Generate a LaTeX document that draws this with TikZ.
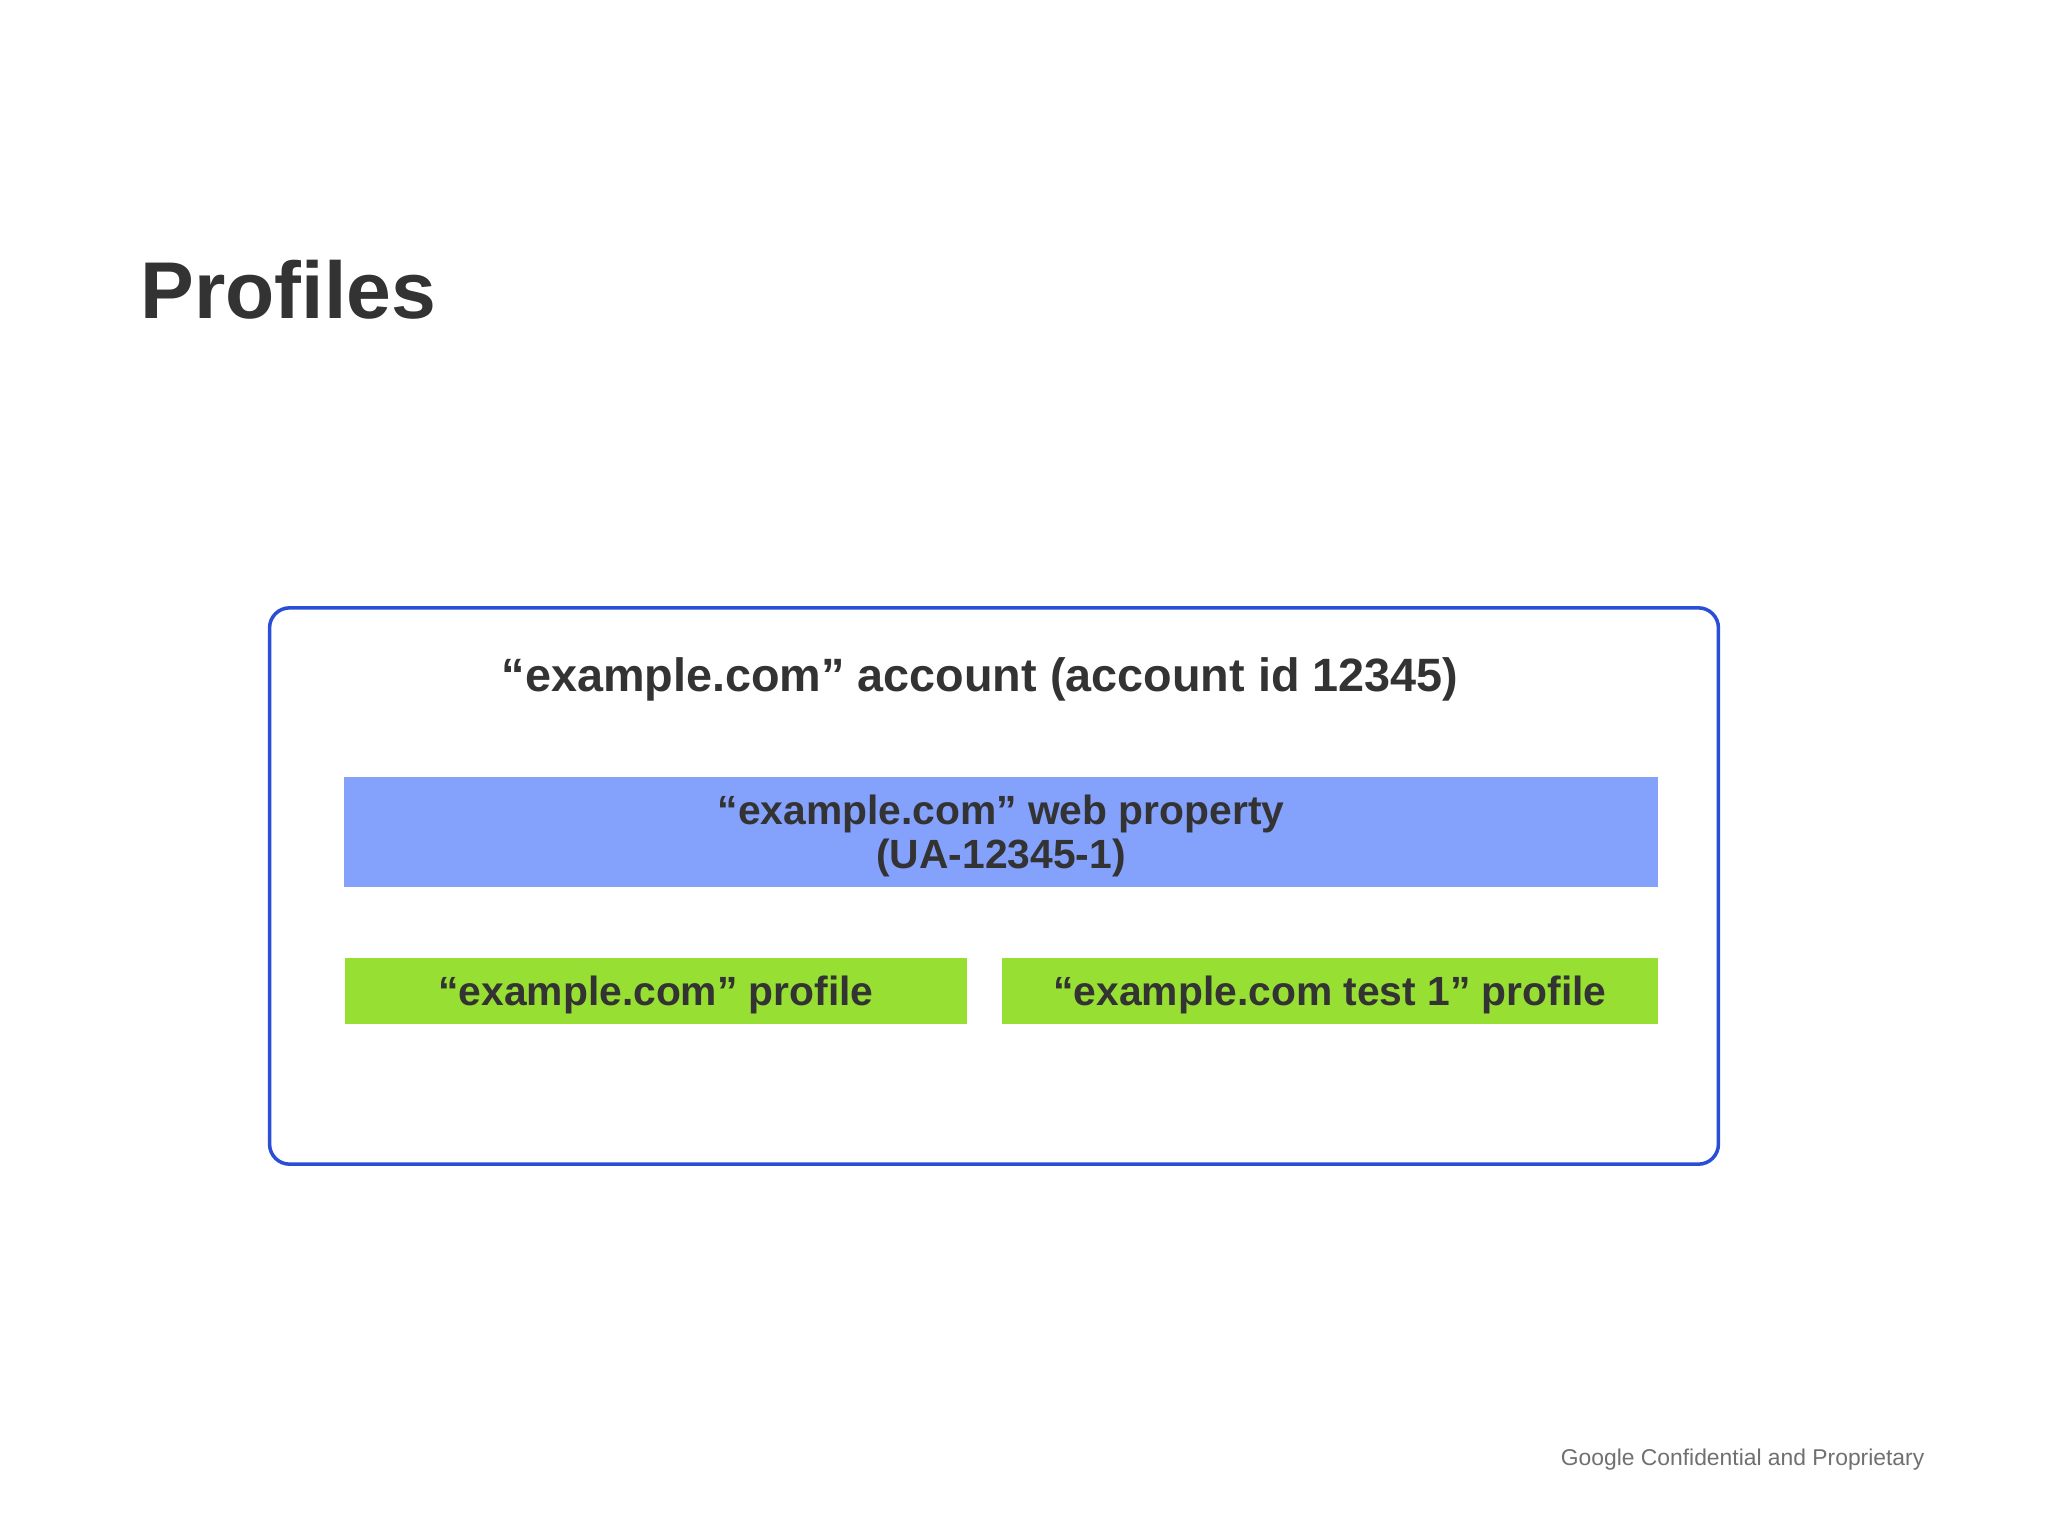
\documentclass[tikz,border=0pt]{standalone}
\usepackage{fontspec}
\setmainfont{Liberation Sans}
\usetikzlibrary{positioning}
\definecolor{acctblue}{HTML}{2A4FD6}
\definecolor{propblue}{HTML}{84A1FC}
\definecolor{profgreen}{HTML}{97E033}
\definecolor{inktext}{HTML}{333333}
\definecolor{footgray}{HTML}{707070}
\tikzset{
  bar/.style={inner sep=0pt, text=inktext, align=center, text depth=0pt,
    font=\bfseries\fontsize{11.6}{12.5}\selectfont},
  profbar/.style={bar, fill=profgreen, minimum height=0.66cm},
}

\begin{document}
\begin{tikzpicture}[x=0.01cm,y=-0.01cm]
	%%%%% START %%%%%
	
	\useasboundingbox[fill=white] (0,0) rectangle (2048,1536);
	
	\node[anchor=base west, inner sep=0pt, text=inktext,
	font=\bfseries\fontsize{22.9}{26}\selectfont] (title) at (140,318) {Profiles};
	
	\node[draw=acctblue, line width=1pt, rounded corners=0.2cm, inner sep=0pt,
	minimum width=14.48cm, minimum height=5.56cm] (account) at (994,886) {};
	\node[inner sep=0pt, text=inktext, font=\bfseries\fontsize{13.3}{15}\selectfont]
	(acctlabel) at (980,679) {“example.com” account (account id 12345)};
	
	\node[bar, fill=propblue, minimum width=13.13cm, minimum height=1.1cm]
	(property) at (1001,832) {“example.com” web property\\(UA-12345-1)};
	
	\node[profbar, minimum width=6.22cm] (mainprofile) at (656,991) {“example.com” profile};
	\node[profbar, minimum width=6.56cm] (testprofile) at (1330,991) {“example.com test 1” profile};
	
	\node[anchor=base east, inner sep=0pt, text=footgray,
	font=\fontsize{6.5}{8}\selectfont] (footer) at (1925,1465) {Google Confidential and Proprietary};
	
	%%%%% END %%%%%
\end{tikzpicture}
\end{document}
